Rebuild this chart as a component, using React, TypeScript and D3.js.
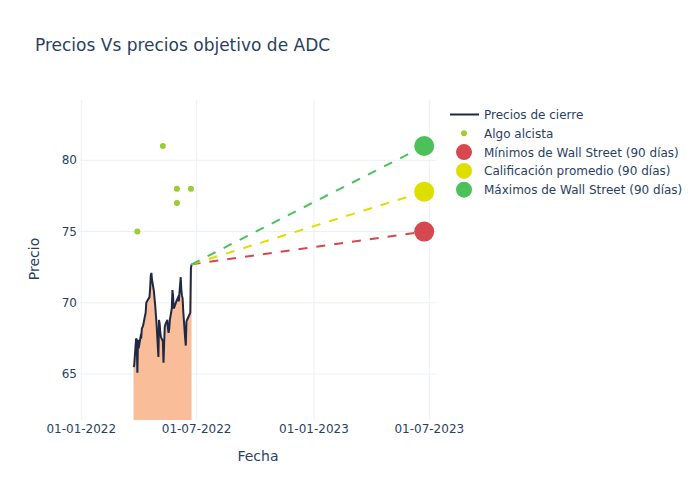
import React from "react";
import * as d3 from "d3";

const closeDates = [
  "2022-03-24","2022-03-25","2022-03-28","2022-03-29","2022-03-30","2022-03-31","2022-04-01",
  "2022-04-04","2022-04-05","2022-04-06","2022-04-07","2022-04-08",
  "2022-04-11","2022-04-12","2022-04-13","2022-04-14",
  "2022-04-18","2022-04-19","2022-04-20","2022-04-21","2022-04-22",
  "2022-04-25","2022-04-26","2022-04-27","2022-04-28","2022-04-29",
  "2022-05-02","2022-05-03","2022-05-04","2022-05-05","2022-05-06",
  "2022-05-09","2022-05-10","2022-05-11","2022-05-12","2022-05-13",
  "2022-05-16","2022-05-17","2022-05-18","2022-05-19","2022-05-20",
  "2022-05-23","2022-05-24","2022-05-25","2022-05-26","2022-05-27",
  "2022-05-31","2022-06-01","2022-06-02","2022-06-03",
  "2022-06-06","2022-06-07","2022-06-08","2022-06-09","2022-06-10",
  "2022-06-13","2022-06-14","2022-06-15","2022-06-16","2022-06-17",
  "2022-06-21","2022-06-22","2022-06-23",
];
const closeValues = [
  65.5, 65.6, 67.5, 67.4, 65.1, 67.4, 66.8,
  67.6, 67.5, 68.2, 68.3, 68.4,
  69.1, 69.3, 70.0, 70.1,
  70.4, 71.0, 71.9, 72.1, 71.6,
  70.8, 70.3, 69.8, 69.2, 68.6,
  66.2, 68.8, 68.5, 67.9, 67.6,
  67.3, 65.8, 67.2, 68.3, 68.5,
  68.8, 68.2, 67.9, 68.2, 68.8,
  69.6, 70.9, 70.5, 69.6, 69.7,
  70.2, 70.3, 70.4, 70.1,
  71.8, 70.9, 70.5, 70.3, 69.4,
  67.5, 67.0, 68.7, 68.8, 68.9,
  69.3, 72.4, 72.7,
];

const bullDates = ["2022-03-30", "2022-05-09", "2022-05-31", "2022-05-31", "2022-06-22"];
const bullValues = [75, 81, 77, 78, 78];

const targetStartDate = "2022-06-23";
const targetDate = "2023-06-23";
const targetNames = ["Mínimos de Wall Street (90 días)", "Calificación promedio (90 días)", "Máximos de Wall Street (90 días)"];
const targetValues = [75, 77.8, 81];
const targetColors = ["#d6484f", "#dede00", "#4cc159"];

const xTickDates = ["2022-01-01", "2022-07-01", "2023-01-01", "2023-07-01"];
const xTickLabels = ["01-01-2022", "01-07-2022", "01-01-2023", "01-07-2023"];
const yTicks = [65, 70, 75, 80];

const FONT = "'DejaVu Sans', sans-serif";
const TXT = "#2a3f5f";
const GRID = "#ebf0f8";

export default function App() {
  const parse = d3.timeParse("%Y-%m-%d");
  const L = 80, R = 436, T = 100, B = 420;
  const x = d3.scaleTime()
    .domain([new Date(2021, 11, 30), new Date(2023, 6, 11, 12)])
    .range([L, R]);
  const y = d3.scaleLinear().domain([61.78, 84.23]).range([B, T]);

  const closePts = closeDates.map((d, i) => [parse(d)!, closeValues[i]] as [Date, number]);
  const line = d3.line<[Date, number]>().x(d => x(d[0])).y(d => y(d[1]));
  const area = d3.area<[Date, number]>().x(d => x(d[0])).y0(B).y1(d => y(d[1]));
  const lastVal = closeValues[closeValues.length - 1];

  const legendY = [114.5, 133.3, 152.1, 170.9, 189.7];
  const legendNames = ["Precios de cierre", "Algo alcista", ...targetNames];

  return (
    <svg width={700} height={500} style={{ position: "absolute", left: 0, top: 0 }} fontFamily={FONT}>
      <rect x={0} y={0} width={700} height={500} fill="#fff" />
      <defs>
        <clipPath id="plotclip"><rect x={L} y={T} width={R - L} height={B - T} /></clipPath>
      </defs>
      {xTickDates.map(d => (
        <line key={d} x1={x(parse(d)!)} x2={x(parse(d)!)} y1={T} y2={B} stroke={GRID} strokeWidth={1} />
      ))}
      {yTicks.map(v => (
        <line key={v} x1={L} x2={R} y1={y(v)} y2={y(v)} stroke={GRID} strokeWidth={1} />
      ))}
      <g clipPath="url(#plotclip)">
        <path d={area(closePts)!} fill="#f9b993" fillOpacity={0.95} />
        <path d={line(closePts)!} fill="none" stroke="#1f2944" strokeWidth={2} />
        {targetValues.map((v, i) => (
          <line key={i} x1={x(parse(targetStartDate)!)} y1={y(lastVal)} x2={x(parse(targetDate)!)} y2={y(v)}
            stroke={targetColors[i]} strokeWidth={2} strokeDasharray="9,9" />
        ))}
        {bullDates.map((d, i) => (
          <circle key={i} cx={x(parse(d)!)} cy={y(bullValues[i])} r={3} fill="#9acd32" />
        ))}
        {targetValues.map((v, i) => (
          <circle key={i} cx={x(parse(targetDate)!)} cy={y(v)} r={10} fill={targetColors[i]} />
        ))}
      </g>
      {xTickDates.map((d, i) => (
        <text key={d} x={x(parse(d)!)} y={433} textAnchor="middle" fontSize={12} fill={TXT}>{xTickLabels[i]}</text>
      ))}
      {yTicks.map(v => (
        <text key={v} x={77} y={y(v) + 4} textAnchor="end" fontSize={12} fill={TXT}>{v}</text>
      ))}
      <text x={258} y={461} textAnchor="middle" fontSize={14} fill={TXT}>Fecha</text>
      <text transform="translate(39,259) rotate(-90)" textAnchor="middle" fontSize={14} fill={TXT}>Precio</text>
      <text x={35} y={51} fontSize={17} fill={TXT}>Precios Vs precios objetivo de ADC</text>
      <g>
        <line x1={450} x2={479} y1={legendY[0]} y2={legendY[0]} stroke="#1f2944" strokeWidth={2} />
        <circle cx={464} cy={legendY[1]} r={3} fill="#9acd32" />
        {targetColors.map((c, i) => (
          <circle key={i} cx={464} cy={legendY[i + 2]} r={8} fill={c} />
        ))}
        {legendNames.map((n, i) => (
          <text key={n} x={484} y={legendY[i] + 4.5} fontSize={12} fill={TXT}>{n}</text>
        ))}
      </g>
    </svg>
  );
}
